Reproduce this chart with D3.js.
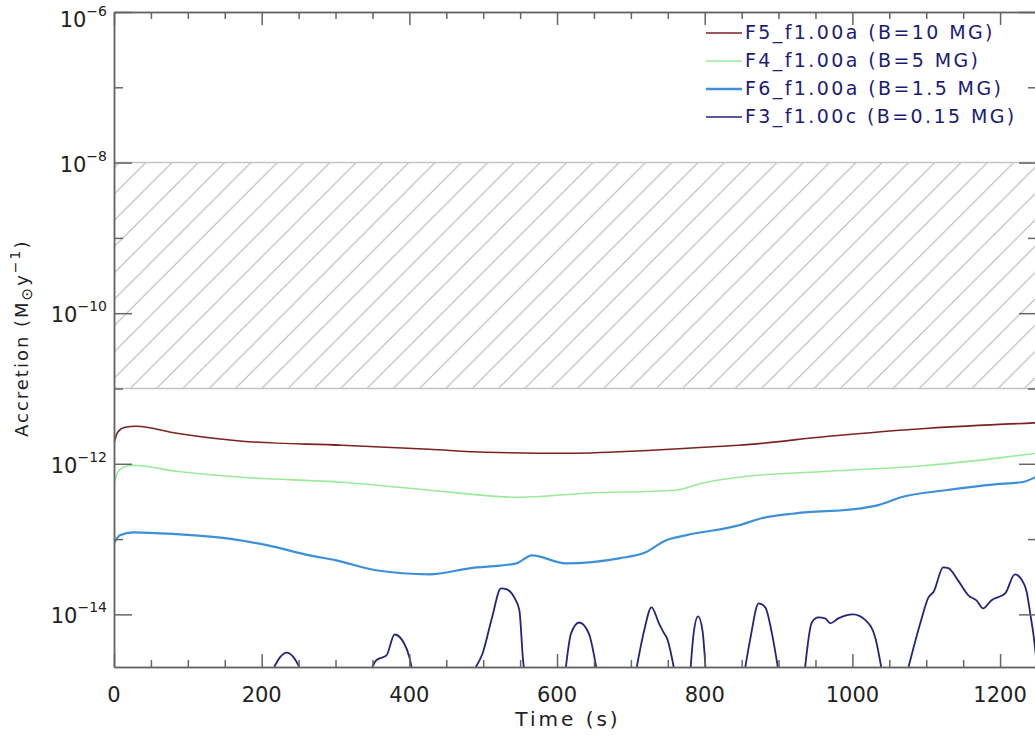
<!DOCTYPE html>
<html>
<head>
<meta charset="utf-8">
<script src="https://cdn.jsdelivr.net/npm/d3@7/dist/d3.min.js"></script>
<style>
    body { margin: 0; background: #fff; }
    text { font-family: "DejaVu Sans", sans-serif; }
</style>
</head>
<body>
<svg id="chart" width="1035" height="736"></svg>
<script>
// values (time in s, accretion in Msun/yr)
let timeF5 = [0, 5, 15, 30, 85, 174, 309, 427, 504, 616, 728, 799, 846, 968, 1103, 1250]
let accF5 = [1.87e-12, 2.63e-12, 3.05e-12, 3.15e-12, 2.54e-12, 1.99e-12, 1.76e-12, 1.56e-12, 1.42e-12, 1.38e-12, 1.51e-12, 1.66e-12, 1.76e-12, 2.32e-12, 2.97e-12, 3.5e-12]

let timeF4 = [0, 5, 12, 26, 85, 174, 309, 427, 549, 639, 761, 796, 846, 968, 1103, 1193, 1250]
let accF4 = [5.5e-13, 7.7e-13, 8.9e-13, 9.55e-13, 7.94e-13, 6.62e-13, 5.68e-13, 4.45e-13, 3.59e-13, 4.06e-13, 4.45e-13, 5.5e-13, 6.62e-13, 7.94e-13, 9.55e-13, 1.18e-12, 1.38e-12]

let timeF6 = [0, 8, 26, 85, 153, 207, 265, 301, 355, 427, 481, 545, 566, 612, 684, 720, 747, 774, 846, 877, 923, 1012, 1035, 1066, 1126, 1193, 1229, 1250]
let accF6 = [8.8e-14, 1.12e-13, 1.23e-13, 1.16e-13, 1.02e-13, 8.3e-14, 6.08e-14, 5.22e-14, 3.85e-14, 3.4e-14, 4.08e-14, 4.76e-14, 6.08e-14, 4.76e-14, 5.55e-14, 6.67e-14, 9.6e-14, 1.12e-13, 1.52e-13, 1.89e-13, 2.2e-13, 2.56e-13, 2.82e-13, 3.59e-13, 4.45e-13, 5.34e-13, 5.68e-13, 6.8e-13]

// F3 drops below the plot between bursts: null = gap
let timeF3 = [217, 225, 234, 243, 251, null,
    350, 355, 369, 380, 393, 400, 403, null,
    490, 499, 512, 524, 532, 542, 549, 554, 555, null,
    612, 619, 630, 643, 653, null,
    708, 718, 728, 738, 745, 749, 758, null,
    781, 785, 791, 797, 801, null,
    855, 862, 873, 882, 891, 899, null,
    936, 945, 954, 963, 970, 981, 1001, 1018, 1031, 1039, null,
    1076, 1093, 1103, 1110, 1123, 1130, 1143, 1157, 1168, 1177, 1188, 1207, 1220, 1229, 1236, 1241, 1246, 1250]
let accF3 = [2e-15, 2.7e-15, 3.1e-15, 2.7e-15, 2e-15, null,
    2e-15, 2.45e-15, 2.85e-15, 5.4e-15, 4.1e-15, 2.7e-15, 2e-15, null,
    2e-15, 3.0e-15, 9.1e-15, 2.22e-14, 2.15e-14, 1.68e-14, 1.13e-14, 2.45e-15, 2e-15, null,
    2e-15, 5.6e-15, 7.8e-15, 5.6e-15, 2e-15, null,
    2e-15, 6.1e-15, 1.24e-14, 7.6e-15, 5.6e-15, 4.8e-15, 2e-15, null,
    2e-15, 5.6e-15, 9.4e-15, 6.1e-15, 2e-15, null,
    2e-15, 4.9e-15, 1.4e-14, 1.24e-14, 5.6e-15, 2e-15, null,
    2e-15, 7.8e-15, 9.1e-15, 8.85e-15, 7.6e-15, 8.85e-15, 1.0e-14, 8.3e-15, 4.9e-15, 2e-15, null,
    2e-15, 8.3e-15, 1.68e-14, 2.0e-14, 4.2e-14, 4.1e-14, 2.83e-14, 1.79e-14, 1.53e-14, 1.2e-14, 1.53e-14, 1.9e-14, 3.4e-14, 2.9e-14, 2.0e-14, 1.0e-14, 4.7e-15, 2e-15]

let seriesNames = ["F5_f1.00a (B=10 MG)", "F4_f1.00a (B=5 MG)", "F6_f1.00a (B=1.5 MG)", "F3_f1.00c (B=0.15 MG)"]
let seriesColors = ["#7d2222", "#98ec98", "#3c90da", "#24247a"]
let seriesWidths = [1.6, 1.6, 2.2, 1.8]

let xMajor = [0, 200, 400, 600, 800, 1000, 1200]
let yMajorExp = [-6, -8, -10, -12, -14]
let yMinorExp = [-7, -9, -11, -13]
let hatchBand = [1e-11, 1e-8]

let zip = (ts, vs) => ts.map((t, i) => [t, vs[i]])
let seriesData = [zip(timeF5, accF5), zip(timeF4, accF4), zip(timeF6, accF6), zip(timeF3, accF3)]

let svg = d3.select('#chart')
let plotLeft = 114, plotRight = 1037, plotTop = 12, plotBottom = 667

let x = d3.scaleLinear().domain([0, 1250]).range([plotLeft, plotRight])
let y = d3.scaleLog().domain([2e-15, 1e-6]).range([plotBottom, plotTop])

let axisColor = "#666"

// hatched band
let defs = svg.append("defs")
let s = 26.3
let pat = defs.append("pattern")
    .attr("id", "hatch")
    .attr("patternUnits", "userSpaceOnUse")
    .attr("width", s).attr("height", s)
    .attr("x", 19)
pat.append("path")
    .attr("d", "M0," + s + " L" + s + ",0 M-2,2 L2,-2 M" + (s - 2) + "," + (s + 2) + " L" + (s + 2) + "," + (s - 2))
    .attr("stroke", "#b0b0b0").attr("stroke-width", 1)

svg.append("rect")
    .attr("x", plotLeft).attr("y", y(hatchBand[1]))
    .attr("width", plotRight - plotLeft).attr("height", y(hatchBand[0]) - y(hatchBand[1]))
    .attr("fill", "url(#hatch)")
hatchBand.forEach(v => {
    svg.append("line")
        .attr("x1", plotLeft).attr("x2", plotRight)
        .attr("y1", y(v)).attr("y2", y(v))
        .attr("stroke", "#c4c4c4").attr("stroke-width", 1.5)
})

defs.append("clipPath").attr("id", "plot-clip")
    .append("rect").attr("x", plotLeft).attr("y", plotTop)
    .attr("width", plotRight - plotLeft).attr("height", plotBottom - plotTop)

// curves
let line = d3.line()
    .defined(d => d[0] != null && d[1] != null)
    .x(d => x(d[0]))
    .y(d => y(d[1]))
    .curve(d3.curveMonotoneX)

let g = svg.append("g").attr("clip-path", "url(#plot-clip)")
seriesData.forEach((data, i) => {
    g.append("path")
        .datum(data)
        .attr("fill", "none")
        .attr("stroke", seriesColors[i])
        .attr("stroke-width", seriesWidths[i])
        .attr("stroke-linejoin", "round")
        .attr("d", line)
})

// axes on all four sides, ticks pointing inward
let xMinor = d3.range(0, 1251, 50).filter(v => v % 200 != 0)
let styleAxis = sel => {
    sel.select(".domain").attr("stroke", axisColor).attr("stroke-width", 1.5)
    sel.selectAll(".tick line").attr("stroke", axisColor).attr("stroke-width", 1.5)
    sel.selectAll(".tick text").remove()
}
let xAxes = [
    [d3.axisBottom, plotBottom, -13, xMajor], [d3.axisBottom, plotBottom, -7, xMinor],
    [d3.axisTop, plotTop, -13, xMajor], [d3.axisTop, plotTop, -7, xMinor]
]
xAxes.forEach(([fn, pos, size, vals]) => {
    svg.append("g")
        .attr("transform", "translate(0," + pos + ")")
        .call(fn(x).tickValues(vals).tickSizeInner(size).tickSizeOuter(0))
        .call(styleAxis)
})
let yMajor = yMajorExp.map(e => Math.pow(10, e))
let yMinor = yMinorExp.map(e => Math.pow(10, e))
let yAxes = [
    [d3.axisLeft, plotLeft, -18, yMajor], [d3.axisLeft, plotLeft, -9, yMinor],
    [d3.axisRight, plotRight, -18, yMajor], [d3.axisRight, plotRight, -9, yMinor]
]
yAxes.forEach(([fn, pos, size, vals]) => {
    svg.append("g")
        .attr("transform", "translate(" + pos + ",0)")
        .call(fn(y).tickValues(vals).tickSizeInner(size).tickSizeOuter(0))
        .call(styleAxis)
})

// tick labels
svg.selectAll(".xlab")
    .data(xMajor)
    .enter().append("text")
    .attr("class", "xlab")
    .attr("x", d => x(d))
    .attr("y", 702)
    .attr("text-anchor", "middle")
    .attr("font-size", 21)
    .attr("fill", "#222")
    .text(d => d)

// the top label is pushed down so it stays on the page
let ylab = svg.selectAll(".ylab")
    .data(yMajorExp)
    .enter().append("text")
    .attr("class", "ylab")
    .attr("x", 107)
    .attr("y", d => Math.max(y(Math.pow(10, d)) + 9, 27))
    .attr("text-anchor", "end")
    .attr("fill", "#222")
ylab.append("tspan").attr("font-size", 21).text("10")
ylab.append("tspan").attr("font-size", 14).attr("dy", -11).text(d => "\u2212" + (-d))

// axis titles
svg.append("text")
    .attr("x", 568).attr("y", 726)
    .attr("text-anchor", "middle")
    .attr("font-size", 20)
    .attr("letter-spacing", 3)
    .attr("fill", "#222")
    .text("Time (s)")

let ytitle = svg.append("text")
    .attr("transform", "translate(28,437) rotate(-90)")
    .attr("font-size", 18)
    .attr("letter-spacing", 2)
    .attr("fill", "#222")
ytitle.append("tspan").text("Accretion  (M")
ytitle.append("tspan").attr("font-size", 15).attr("dy", 4).text("\u2299")
ytitle.append("tspan").attr("dy", -4).text("y")
ytitle.append("tspan").attr("font-size", 14).attr("dy", -8).text("\u22121")
ytitle.append("tspan").attr("dy", 8).text(")")

// legend
let legend = svg.append("g")
seriesNames.forEach((name, i) => {
    let cy = 33 + i * 28
    legend.append("line")
        .attr("x1", 706).attr("x2", 742)
        .attr("y1", cy).attr("y2", cy)
        .attr("stroke", seriesColors[i])
        .attr("stroke-width", i == 2 ? 2.5 : 1.5)
    legend.append("text")
        .attr("x", 745).attr("y", cy + 6)
        .attr("font-size", 19)
        .attr("letter-spacing", 2.4)
        .attr("fill", "#1c1c78")
        .text(name)
})
</script>
</body>
</html>
